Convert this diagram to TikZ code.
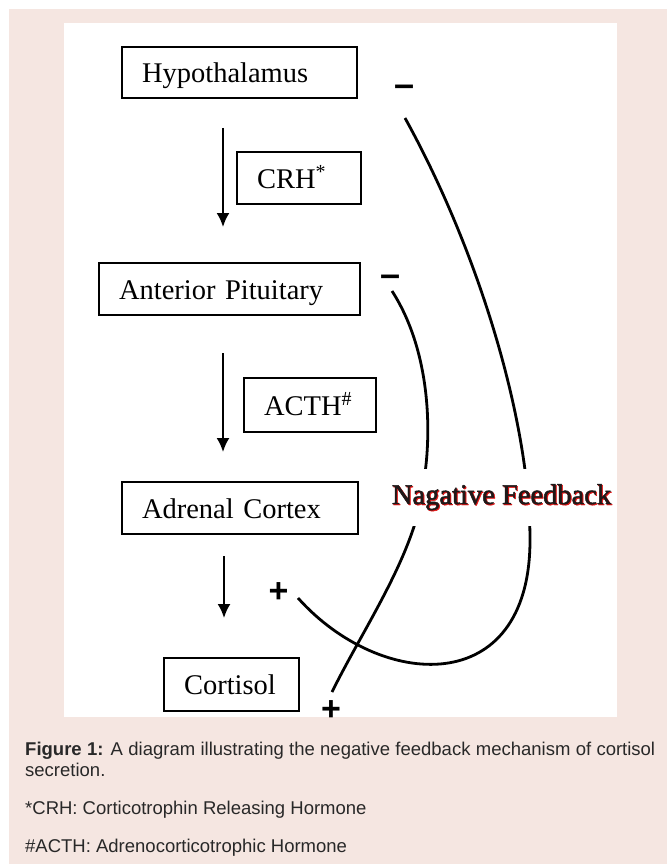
\documentclass[tikz,border=0pt]{standalone}
\usepackage{fontspec}
\setmainfont{Liberation Serif}
\newfontfamily\capfont{Liberation Sans}
\newfontfamily\fbfont[FakeBold=1.6]{Liberation Serif}
\usetikzlibrary{arrows.meta}
\definecolor{bgpink}{RGB}{245,230,225}
\definecolor{captxt}{RGB}{40,40,40}
\definecolor{shadowred}{RGB}{225,20,20}
\definecolor{fbblack}{RGB}{30,25,25}
\begin{document}
\begin{tikzpicture}[x=1pt,y=-1pt,
  box/.style={draw, line width=2.2pt, inner xsep=20pt, inner ysep=0pt, align=left,
    text height=20pt, text depth=0pt, font=\fontsize{28.5}{34}\selectfont},
  arr/.style={line width=2pt, -{Latex[length=14pt,width=13pt]}},
  fbline/.style={line width=2.8pt},
  sign/.style={inner sep=0pt, anchor=base, font=\capfont\bfseries\fontsize{34}{40}\selectfont},
  minussign/.style={inner sep=0pt, anchor=base, font=\capfont\bfseries\fontsize{36}{40}\selectfont},
  fbtext/.style={fill=white, inner xsep=2pt, inner ysep=15pt, anchor=base, font=\fbfont\fontsize{28.5}{34}\selectfont},
  captext/.style={inner sep=0pt, anchor=base west, text=captxt, font=\capfont\fontsize{18.5}{22}\selectfont}]
\useasboundingbox (0,0) rectangle (667,864);
\fill[white] (0,0) rectangle (667,864);
\fill[bgpink] (9,9) rectangle (667,864);
\fill[white] (64,23) rectangle (617,717);
\begin{scope}
\clip (64,23) rectangle (617,717);
% boxes
\node[box, text width=195pt, minimum height=51pt] (hyp) at (239.5,72.5) {Hypothalamus};
\node[box, text width=84pt, minimum height=52pt] (crh) at (299,178) {CRH\textsuperscript{*}};
\node[box, text width=221pt, minimum height=52pt] (ap) at (229.5,289) {Anterior Pituitary};
\node[box, text width=92pt, minimum height=54pt] (acth) at (310,405) {ACTH\textsuperscript{\#}};
\node[box, text width=196pt, minimum height=52pt] (ac) at (240,508) {Adrenal Cortex};
\node[box, text width=95pt, minimum height=53pt] (cort) at (231.5,684.5) {Cortisol};
% arrows
\coordinate (a1s) at (223,128); \coordinate (a1e) at (223,227);
\coordinate (a2s) at (223,353); \coordinate (a2e) at (223,452);
\coordinate (a3s) at (224,556); \coordinate (a3e) at (224,618);
\draw[arr] (a1s) -- (a1e);
\draw[arr] (a2s) -- (a2e);
\draw[arr] (a3s) -- (a3e);
% signs
\node[minussign] (m1) at (404.5,97) {–};
\node[minussign] (m2) at (391,286) {–};
\node[sign] (p1) at (278.5,602) {+};
\node[sign] (p2) at (331,720) {+};
% feedback curves
\coordinate (o1) at (405,118); \coordinate (o2) at (298,598);
\coordinate (i1) at (392,291); \coordinate (i2) at (332,692);
\draw[fbline] (o1) .. controls (478,250) and (530,420) .. (530,540)
  .. controls (530,700) and (380,690) .. (o2);
\draw[fbline] (i1) .. controls (430,350) and (432,430) .. (424,480)
  .. controls (418,550) and (365,625) .. (i2);
\node[fbtext] (fb) at (501.5,504) {\rlap{\hspace{1pt}\raisebox{-1pt}{\color{shadowred}Nagative Feedback}}\textcolor{fbblack}{Nagative Feedback}};
\end{scope}
% caption
\node[captext] (c1) at (25,755) {\makebox[630pt][s]{\textbf{Figure 1:} A diagram illustrating the negative feedback mechanism of cortisol}};
\node[captext] (c2) at (25,776) {secretion.};
\node[captext] (c3) at (25,814) {*CRH: Corticotrophin Releasing Hormone};
\node[captext] (c4) at (25,852) {\#ACTH: Adrenocorticotrophic Hormone};
\end{tikzpicture}
\end{document}
